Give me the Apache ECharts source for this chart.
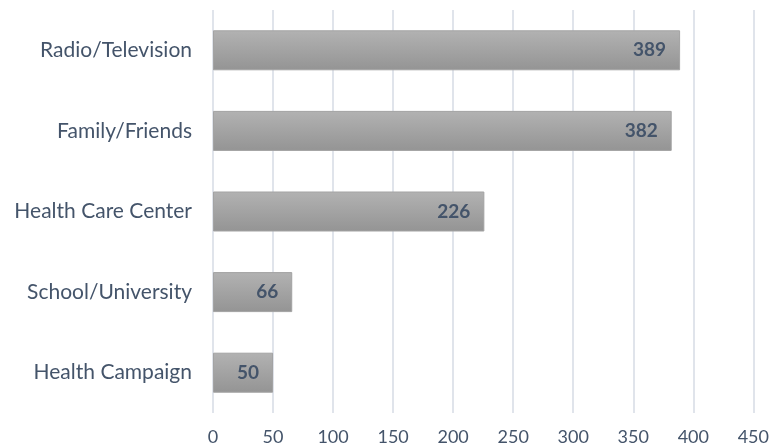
<!DOCTYPE html>
<html>
<head>
<meta charset="utf-8">
<script src="https://cdn.jsdelivr.net/npm/echarts@6/dist/echarts.min.js"></script>
<style>
  html, body { margin: 0; padding: 0; background: #fff; }
  #chart { width: 772px; height: 446px; }
</style>
</head>
<body>
<div id="chart"></div>
<script>
// categories listed bottom-to-top (category axis on y starts at bottom)
const categories = ['Health Campaign', 'School/University', 'Health Care Center', 'Family/Friends', 'Radio/Television']
const counts = [50, 66, 226, 382, 389]
const xTicks = { min: 0, max: 450, interval: 50 }

const textColor = '#44546A'
const font = 'Lato, "Open Sans", sans-serif'

const chart = echarts.init(document.getElementById('chart'))
chart.setOption({
  animation: false,
  grid: { left: 213, right: 14, top: 10, bottom: 33 },
  xAxis: {
    type: 'value',
    min: xTicks.min, max: xTicks.max, interval: xTicks.interval,
    axisLine: { show: false },
    axisTick: { show: false },
    axisLabel: { color: textColor, fontSize: 18, fontFamily: font, margin: 15 },
    splitLine: { lineStyle: { color: '#E0E4EB', width: 2 } }
  },
  yAxis: {
    type: 'category',
    data: categories,
    axisLine: { show: false },
    axisTick: { show: false },
    axisLabel: { color: textColor, fontSize: 21, fontFamily: font, margin: 21 }
  },
  series: [{
    type: 'bar',
    data: counts,
    barWidth: 40,
    itemStyle: {
      color: new echarts.graphic.LinearGradient(0, 0, 0, 1, [
        { offset: 0, color: '#B2B2B2' },
        { offset: 1, color: '#949494' }
      ]),
      borderColor: '#A3A3A3',
      borderWidth: 1
    },
    label: {
      show: true,
      position: 'insideRight',
      distance: 14,
      color: textColor,
      fontSize: 19,
      fontWeight: 'bold',
      fontFamily: font
    }
  }]
})
</script>
</body>
</html>
